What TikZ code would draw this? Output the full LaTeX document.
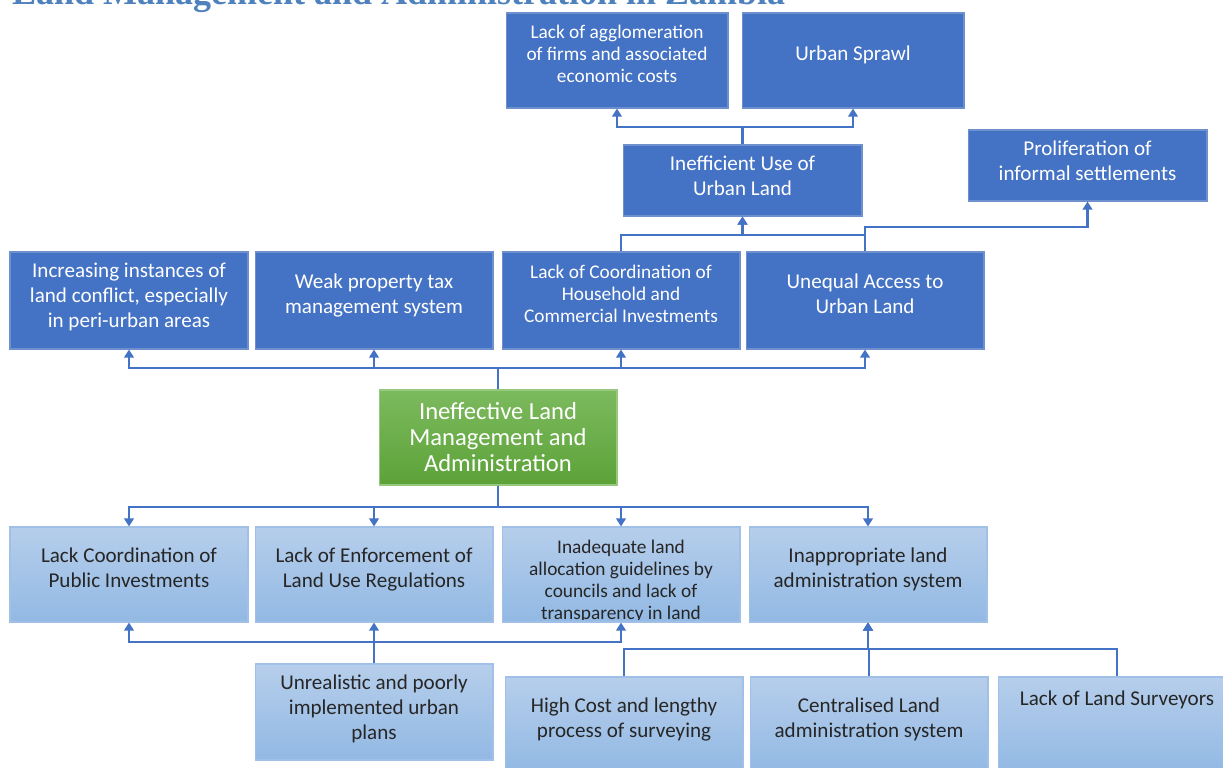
\documentclass[tikz,border=0pt]{standalone}
\usepackage{graphicx}
\usepackage{fontspec}
\setmainfont{Carlito}
\newfontfamily\titlefont{Liberation Serif}
\usetikzlibrary{arrows.meta}

\definecolor{darkfill}{RGB}{68,114,196}
\definecolor{darkedge}{RGB}{110,145,205}
\definecolor{lighttop}{RGB}{182,206,235}
\definecolor{lightbot}{RGB}{146,185,228}
\definecolor{lightedge}{RGB}{160,192,232}
\definecolor{greentop}{RGB}{124,186,94}
\definecolor{greenbot}{RGB}{92,162,56}
\definecolor{greenedge}{RGB}{150,200,125}
\definecolor{lineblue}{RGB}{68,114,196}
\definecolor{titleblue}{RGB}{79,129,189}
\definecolor{darktext}{RGB}{38,38,38}

\tikzset{
  box/.style={minimum width=4.76cm, minimum height=1.94cm, align=center,
    inner sep=1pt, line width=0.6pt, font=\fontsize{12}{14.2}\selectfont},
  darkbox/.style={box, text depth=8pt, draw=darkedge, fill=darkfill, text=white},
  lightbox/.style={box, text depth=8pt, draw=lightedge, top color=lighttop,
    bottom color=lightbot, text=darktext},
  greenbox/.style={box, draw=greenedge, top color=greentop, bottom color=greenbot,
    text=white, font=\fontsize{14}{14.8}\selectfont},
  small/.style={font=\fontsize{11}{12.5}\selectfont},
  link/.style={draw=lineblue, line width=1.4pt},
  arr/.style={link, -{Triangle[length=0.16cm, width=0.19cm]}},
}

\begin{document}
\begin{tikzpicture}[x=0.02cm, y=-0.02cm]
  \clip (0,0) rectangle (1223,767);

  % Title, cut at the top of the page
  \node[anchor=base west, inner sep=0pt, text=titleblue,
    font=\titlefont\bfseries\fontsize{21}{21}\selectfont] (title) at (12,5)
    {\resizebox{15.46cm}{\height}{Land Management and Administration in Zambia}};

  % Effects
  \node[darkbox, small, minimum width=4.44cm, minimum height=1.9cm] (agglo) at (617,60.5)
    {Lack of agglomeration\\of firms and associated\\economic costs};
  \node[darkbox, minimum width=4.44cm, minimum height=1.9cm] (sprawl) at (853,60.5) {Urban Sprawl};
  \node[darkbox, text depth=5pt, minimum width=4.78cm, minimum height=1.42cm] (ineff) at (742.5,180.5)
    {Inefficient Use of\\Urban Land};
  \node[darkbox, text depth=5pt, minimum width=4.78cm, minimum height=1.42cm] (prolif) at (1087.5,165.5)
    {Proliferation of\\informal settlements};
  \node[darkbox, text depth=6pt] (conflict) at (129,300.5)
    {Increasing instances of\\land conflict, especially\\in peri-urban areas};
  \node[darkbox] (tax) at (374,300.5) {Weak property tax\\management system};
  \node[darkbox, small] (coord) at (621,300.5)
    {Lack of Coordination of\\Household and\\Commercial Investments};
  \node[darkbox] (access) at (865,300.5) {Unequal Access to\\Urban Land};

  % Core problem
  \node[greenbox, minimum height=1.9cm] (core) at (498,437.5)
    {Ineffective Land\\Management and\\Administration};

  % Causes
  \node[lightbox, minimum height=1.9cm] (pubinv) at (129,574.5)
    {Lack Coordination of\\Public Investments};
  \node[lightbox, minimum height=1.9cm] (enforce) at (374,574.5)
    {Lack of Enforcement of\\Land Use Regulations};
  \node[lightbox, minimum height=1.9cm] (alloc) at (621,574.5) {};
  \begin{scope}
    \clip ([yshift=0.06cm]alloc.south west) rectangle (alloc.north east);
    \node[small, align=center, text=darktext] (alloc-text) at ([yshift=-0.14cm]alloc.center)
      {Inadequate land\\allocation guidelines by\\councils and lack of\\transparency in land};
  \end{scope}
  \node[lightbox, minimum height=1.9cm] (inapp) at (868,574.5)
    {Inappropriate land\\administration system};

  % Root causes
  \node[lightbox, text depth=5.5pt, minimum height=1.92cm] (unreal) at (374,712)
    {Unrealistic and poorly\\implemented urban\\plans};
  \node[lightbox, minimum height=1.9cm] (highcost) at (624,724.5)
    {High Cost and lengthy\\process of surveying};
  \node[lightbox, minimum height=1.9cm] (central) at (869,724.5)
    {Centralised Land\\administration system};
  \node[lightbox, text depth=2pt, minimum height=1.9cm] (surv) at (1117,724.5)
    {Lack of Land Surveyors\\\strut\\\strut};

  % Bus levels
  \coordinate (topbus) at (0,127);
  \coordinate (prbus) at (0,227);
  \coordinate (midbus) at (0,235);
  \coordinate (upbus) at (0,368);
  \coordinate (downbus) at (0,507);
  \coordinate (lowbus) at (0,642);
  \coordinate (survbus) at (0,649);

  % Connectors
  \foreach \n in {agglo,sprawl}
    \draw[arr] (ineff.north) |- (\n.south |- topbus) -- (\n.south);
  \foreach \n in {coord,access}
    \draw[arr] (\n.north) |- (ineff.south |- midbus) -- (ineff.south);
  \draw[arr] (access.north) |- (prolif.south |- prbus) -- (prolif.south);
  \foreach \n in {conflict,tax,coord,access}
    \draw[arr] (core.north) |- (\n.south |- upbus) -- (\n.south);
  \foreach \n in {pubinv,enforce,alloc,inapp}
    \draw[arr] (core.south) |- (\n.north |- downbus) -- (\n.north);
  \foreach \n in {pubinv,enforce,alloc}
    \draw[arr] (unreal.north) |- (\n.south |- lowbus) -- (\n.south);
  \foreach \n in {highcost,central,surv}
    \draw[arr] (\n.north) |- (inapp.south |- survbus) -- (inapp.south);
\end{tikzpicture}
\end{document}
